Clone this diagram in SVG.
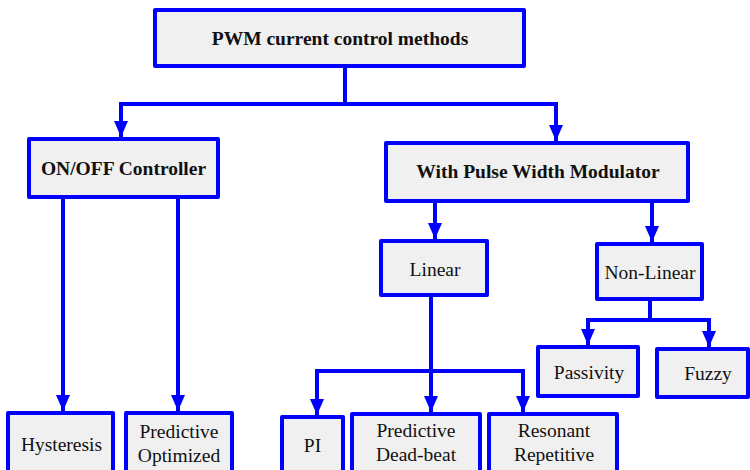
<svg xmlns="http://www.w3.org/2000/svg" width="750" height="470" viewBox="0 0 750 470">
<style>
.box{fill:#f0f0f0;stroke:#0000ff;stroke-width:4;stroke-linejoin:round}
text{font-family:'Liberation Serif','DejaVu Serif',serif;font-size:19.5px;fill:#111;text-anchor:middle}
.b{font-weight:bold}
.c{fill:none;stroke:#0000ff;stroke-width:4}
</style>
<defs>
<marker id="ah" markerUnits="userSpaceOnUse" markerWidth="16" markerHeight="16" viewBox="0 0 16 16" refX="16" refY="8" orient="auto">
<path d="M0,1 L16,8 L0,15 Z" fill="#0000ff"/>
</marker>
</defs>
<g id="connectors">
<path class="c" d="M345,66 V104"/>
<path class="c" d="M120,104 H557"/>
<path class="c" d="M121,102 V137" marker-end="url(#ah)"/>
<path class="c" d="M556,102 V141" marker-end="url(#ah)"/>
<path class="c" d="M63,197 V411" marker-end="url(#ah)"/>
<path class="c" d="M178,197 V411" marker-end="url(#ah)"/>
<path class="c" d="M435,201 V239" marker-end="url(#ah)"/>
<path class="c" d="M652,201 V242" marker-end="url(#ah)"/>
<path class="c" d="M431,295 V412" marker-end="url(#ah)"/>
<path class="c" d="M317,415 V371 H523 V412" marker-end="url(#ah)"/>
<path class="c" d="M317,371 V415" marker-end="url(#ah)"/>
<path class="c" d="M650,299 V320"/>
<path class="c" d="M588,345 V320 H709 V347" marker-end="url(#ah)"/>
<path class="c" d="M588,322 V345" marker-end="url(#ah)"/>
</g>
<g id="n-root"><rect class="box" x="155" y="10" width="369" height="56"/><text class="b" x="340" y="45">PWM current control methods</text></g>
<g id="n-onoff"><rect class="box" x="29" y="139" width="189" height="58"/><text class="b" x="123.5" y="175">ON/OFF Controller</text></g>
<g id="n-pwm"><rect class="box" x="386" y="143" width="302" height="58"/><text class="b" x="538" y="178">With Pulse Width Modulator</text></g>
<g id="n-linear"><rect class="box" x="381" y="241" width="106" height="54"/><text x="435" y="276">Linear</text></g>
<g id="n-nonlinear"><rect class="box" x="597" y="244" width="105" height="55"/><text x="650" y="279">Non-Linear</text></g>
<g id="n-passivity"><rect class="box" x="538" y="347" width="100" height="49"/><text x="589" y="379">Passivity</text></g>
<g id="n-fuzzy"><rect class="box" x="657" y="349" width="91" height="48"/><text x="708" y="380">Fuzzy</text></g>
<g id="n-hysteresis"><rect class="box" x="8" y="413" width="105" height="62"/><text x="61.5" y="451">Hysteresis</text></g>
<g id="n-predopt"><rect class="box" x="126" y="413" width="106" height="62"/><text x="179" y="438">Predictive</text><text x="179" y="462">Optimized</text></g>
<g id="n-pi"><rect class="box" x="282" y="417" width="61" height="58"/><text x="312.5" y="452">PI</text></g>
<g id="n-preddb"><rect class="box" x="352" y="414" width="128" height="61"/><text x="416" y="437">Predictive</text><text x="416" y="461">Dead-beat</text></g>
<g id="n-resrep"><rect class="box" x="489" y="414" width="128" height="61"/><text x="554" y="437">Resonant</text><text x="554" y="461">Repetitive</text></g>
</svg>
